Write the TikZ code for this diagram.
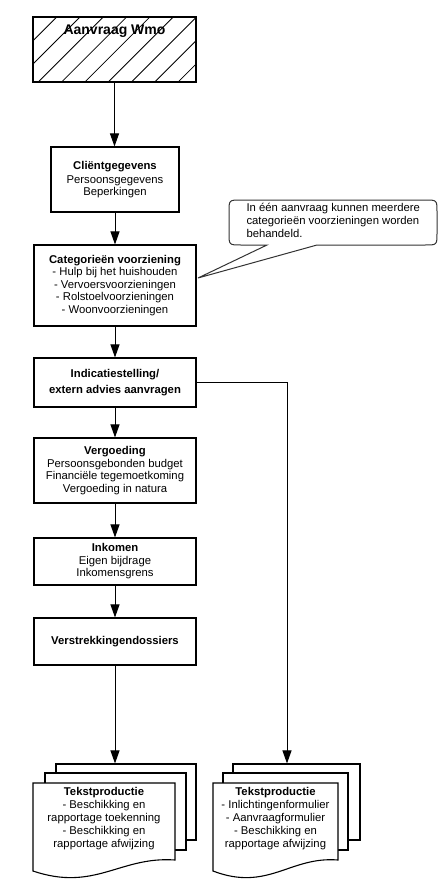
\documentclass[tikz,border=0pt]{standalone}
\usepackage{fontspec}
\setmainfont{Liberation Sans}
\usetikzlibrary{arrows.meta}
\begin{document}
\begin{tikzpicture}[x=1pt,y=-1pt,
  box/.style={draw, line width=1.1pt, fill=white, align=center, inner sep=2pt,
    font=\fontsize{11.3}{12.5}\selectfont},
  conn/.style={line width=1pt, -{Triangle[length=13pt,width=9pt]}},
  page/.style={draw, line width=1.1pt, fill=white},
  hatch/.style={line width=0.8pt},
  doctext/.style={align=center, font=\fontsize{11.3}{13}\selectfont},
  callout/.style={draw=black!80, line width=1pt, fill=white},
  ]
\useasboundingbox[fill=white] (0,0) rectangle (446,880);

% Start box (hatched)
\node[draw, line width=1.1pt, minimum width=163pt, minimum height=65pt, inner sep=0pt] (b1) at (114.5,49.5) {};
\begin{scope}
  \clip (b1.south west) rectangle (b1.north east);
  \foreach \k in {-3,...,8}
    \draw[hatch] ({38.3+23.3*\k-20},102) -- ({38.3+23.3*\k+80},2);
\end{scope}
\node[draw, line width=1.1pt, minimum width=163pt, minimum height=65pt, inner sep=0pt] at (b1.center) {};
\node[font=\fontsize{14}{16}\selectfont\bfseries] (t1) at (114.5,31) {Aanvraag Wmo};

% Process boxes
\node[box, minimum width=128pt, minimum height=65pt] (b2) at (115,179.5)
  {\textbf{Cliëntgegevens}\\[1.5pt]Persoonsgegevens\\Beperkingen};
\node[box, minimum width=162pt, minimum height=81pt] (b3) at (115,285.5)
  {\textbf{Categorieën voorziening}\\- Hulp bij het huishouden\\- Vervoersvoorzieningen\\- Rolstoelvoorzieningen\\- Woonvoorzieningen};
\node[box, minimum width=162pt, minimum height=49pt] (b4) at (115,382.5)
  {\textbf{Indicatiestelling/}\\[3pt]\textbf{extern advies aanvragen}};
\node[box, minimum width=162pt, minimum height=65pt] (b5) at (115,470.5)
  {\textbf{Vergoeding}\\Persoonsgebonden budget\\Financiële tegemoetkoming\\Vergoeding in natura};
\node[box, minimum width=162pt, minimum height=47pt] (b6) at (115,561.5)
  {\textbf{Inkomen}\\Eigen bijdrage\\Inkomensgrens};
\node[box, minimum width=162pt, minimum height=47pt] (b7) at (115,641.5)
  {\textbf{Verstrekkingendossiers}};

% Callout
\coordinate (tip) at (198,278);
\draw[callout] (267,245) -- (tip) -- (317,245) -- (425,245)
  .. controls (437,245) .. (437,233) -- (437,212)
  .. controls (437,200) .. (425,200) -- (241,200)
  .. controls (229,200) .. (229,212) -- (229,233)
  .. controls (229,245) .. (241,245) -- cycle;
\node[align=left, anchor=west, font=\fontsize{11.3}{13}\selectfont] (ct) at (243,220)
  {In één aanvraag kunnen meerdere\\categorieën voorzieningen worden\\behandeld.};

% Document stack 1
\node[page, minimum width=140pt, minimum height=76pt, inner sep=0pt] (d1) at (126,802) {};
\draw[page] (45,773) rectangle (186,850);
\draw[page] (33,783) -- (175,783) -- (175,860)
  .. controls (120,856) and (95,892) .. (33,871) -- cycle;
\node[doctext] (dt1) at (104,819)
  {\textbf{Tekstproductie}\\- Beschikking en\\rapportage toekenning\\- Beschikking en\\rapportage afwijzing};

% Document stack 2
\node[page, minimum width=127pt, minimum height=76pt, inner sep=0pt] (d2) at (296.5,802) {};
\draw[page] (223,773) rectangle (348,850);
\draw[page] (213,783) -- (338,783) -- (338,860)
  .. controls (290,856) and (268,892) .. (213,871) -- cycle;
\node[doctext] (dt2) at (275.5,819)
  {\textbf{Tekstproductie}\\- Inlichtingenformulier\\- Aanvraagformulier\\- Beschikking en\\rapportage afwijzing};

% Connectors
\draw[conn] (b1.south) -- (b1.south |- b2.north);
\draw[conn] (b2) -- (b3);
\draw[conn] (b3) -- (b4);
\draw[conn] (b4) -- (b5);
\draw[conn] (b5) -- (b6);
\draw[conn] (b6) -- (b7);
\draw[conn] (b7.south) -- (b7.south |- d1.north);
\coordinate (bend) at (287,382.5);
\draw[conn] (b4.east) -- (bend) -- (bend |- d2.north);
\end{tikzpicture}
\end{document}
